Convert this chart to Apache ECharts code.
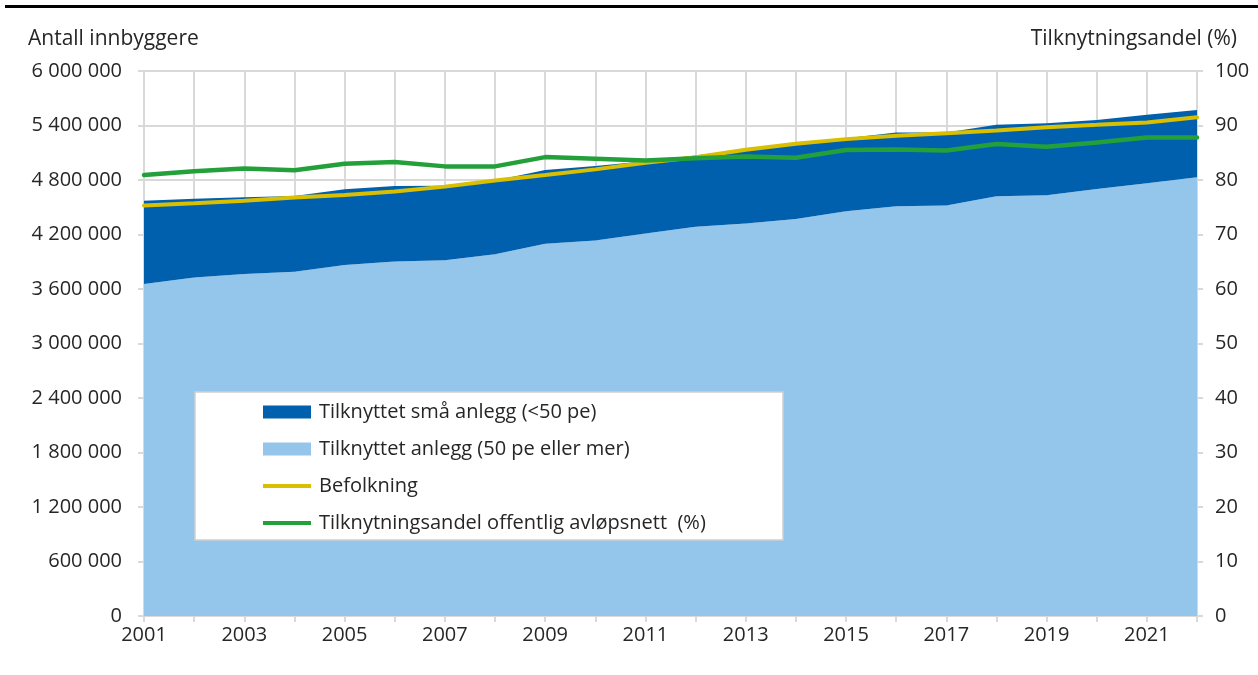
<!DOCTYPE html>
<html>
<head>
<meta charset="utf-8">
<script src="https://cdn.jsdelivr.net/npm/echarts@6/dist/echarts.min.js"></script>
<style>
html,body{margin:0;padding:0;background:#fff;}
#c{width:1258px;height:675px;}
</style>
</head>
<body>
<div id="c"></div>
<script>
const years = ['2001','2002','2003','2004','2005','2006','2007','2008','2009','2010','2011','2012','2013','2014','2015','2016','2017','2018','2019','2020','2021','2022'];
// Tilknyttet anlegg (50 pe eller mer)
const largePlants = [3655000,3727000,3764000,3789000,3865000,3902000,3916000,3982000,4098000,4135000,4211000,4284000,4321000,4372000,4456000,4510000,4520000,4620000,4633000,4700000,4765000,4830000];
// Tilknyttet små anlegg (<50 pe)
const smallPlants = [916000,866000,847000,836000,833000,833000,822000,813000,811000,818000,796000,787000,819000,834000,804000,813000,803000,787000,793000,760000,752000,740000];
// Befolkning
const population = [4520000,4545000,4571000,4607000,4636000,4673000,4727000,4795000,4855000,4917000,4990000,5050000,5133000,5200000,5250000,5287000,5316000,5345000,5382000,5407000,5433000,5490000];
// Tilknytningsandel offentlig avløpsnett (%)
const sharePct = [80.9,81.6,82.1,81.8,83.0,83.3,82.5,82.5,84.2,83.9,83.6,84.0,84.3,84.1,85.5,85.6,85.4,86.6,86.1,86.9,87.8,87.8];

const names = {
  small: 'Tilknyttet små anlegg (<50 pe)',
  large: 'Tilknyttet anlegg (50 pe eller mer)',
  pop: 'Befolkning',
  share: 'Tilknytningsandel offentlig avløpsnett  (%)'
};
const FONT = '"Open Sans", "Noto Sans", sans-serif';
const TXT = '#262626';
const GRID = '#d9d9d9';
const LINE_ICON = 'path://M0,4.5 L48,4.5 L48,8.5 L0,8.5 Z M0,0 L0.01,0 Z M0,13 L0.01,13 Z';

function fmtSpace(v){ return String(v).replace(/\B(?=(\d{3})+(?!\d))/g, ' '); }

const chart = echarts.init(document.getElementById('c'), null, {renderer:'canvas'});
chart.setOption({
  animation:false,
  backgroundColor:'#fff',
  textStyle:{fontFamily:FONT},
  grid:{left:144,right:61,top:71,bottom:59,containLabel:false},
  graphic:[
    {type:'line',shape:{x1:5,y1:6.5,x2:1258,y2:6.5},style:{stroke:'#000',lineWidth:3},z:100},
    {type:'text',left:28,top:29,style:{text:'Antall innbyggere',font:'21px '+FONT,fill:TXT}},
    {type:'text',right:21,top:29,style:{text:'Tilknytningsandel (%)',font:'21px '+FONT,fill:TXT}},
    {type:'rect',shape:{x:195,y:392,width:588,height:148},style:{fill:'#fff',stroke:'#cfcfcf',lineWidth:1.5},z:50}
  ],
  legend:{
    orient:'vertical',left:263,top:402,padding:0,
    itemWidth:48,itemHeight:13,itemGap:17,
    z:60,
    textStyle:{fontSize:20,color:TXT,fontFamily:FONT,padding:[0,0,0,3]},
    data:[
      {name:names.small,icon:'rect'},
      {name:names.large,icon:'rect'},
      {name:names.pop,icon:LINE_ICON},
      {name:names.share,icon:LINE_ICON}
    ]
  },
  xAxis:{
    type:'category',data:years,boundaryGap:false,
    axisLine:{show:true,lineStyle:{color:GRID,width:2}},
    axisTick:{show:true,interval:0,length:6,lineStyle:{color:GRID,width:2}},
    axisLabel:{interval:1,fontSize:20,color:TXT,margin:9,fontFamily:FONT},
    splitLine:{show:true,interval:0,lineStyle:{color:GRID,width:2}}
  },
  yAxis:[
    {type:'value',min:0,max:6000000,interval:600000,
     axisLine:{show:true,lineStyle:{color:GRID,width:2}},
     axisTick:{show:true,length:6,lineStyle:{color:GRID,width:2}},
     axisLabel:{fontSize:20,color:TXT,margin:22,fontFamily:FONT,formatter:fmtSpace},
     splitLine:{show:true,lineStyle:{color:GRID,width:2}}},
    {type:'value',min:0,max:100,interval:10,position:'right',
     axisLine:{show:true,lineStyle:{color:GRID,width:2}},
     axisTick:{show:true,length:6,lineStyle:{color:GRID,width:2}},
     axisLabel:{fontSize:20,color:TXT,margin:18,fontFamily:FONT},
     splitLine:{show:false}}
  ],
  series:[
    {name:names.large,type:'line',stack:'conn',data:largePlants,symbol:'none',
     lineStyle:{width:0},itemStyle:{color:'#94c5ea'},areaStyle:{color:'#94c5ea',opacity:1},z:2},
    {name:names.small,type:'line',stack:'conn',data:smallPlants,symbol:'none',
     lineStyle:{width:0},itemStyle:{color:'#0060ad'},areaStyle:{color:'#0060ad',opacity:1},z:2},
    {name:names.pop,type:'line',data:population,symbol:'none',
     lineStyle:{width:4,color:'#d9bf00',cap:'round'},itemStyle:{color:'#d9bf00'},z:3},
    {name:names.share,type:'line',yAxisIndex:1,data:sharePct,symbol:'none',
     lineStyle:{width:4.5,color:'#23a03a',cap:'round'},itemStyle:{color:'#23a03a'},z:4}
  ]
});
</script>
</body>
</html>
